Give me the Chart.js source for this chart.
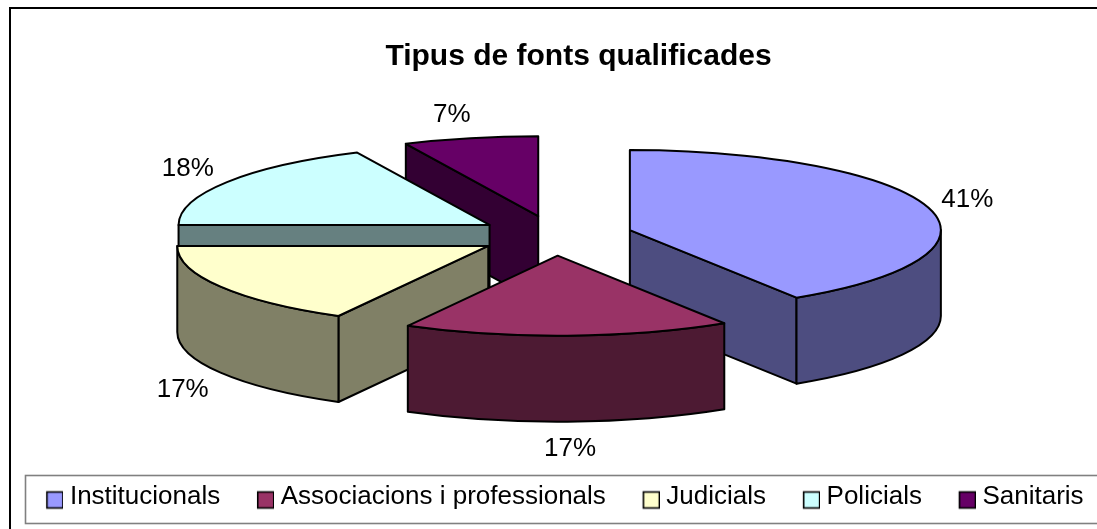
<!DOCTYPE html>
<html><head><meta charset="utf-8">
<style>html,body{margin:0;padding:0;background:#fff}canvas{display:block}</style>
<script src="https://cdn.jsdelivr.net/npm/chart.js@4/dist/chart.umd.min.js"></script>
</head><body><canvas id="c" width="1097" height="529"></canvas>
<script>
const categories = ['Institucionals','Associacions i professionals','Judicials','Policials','Sanitaris'];
const shares = [41,17,17,18,7];
const topColors = ['#9999FF','#993366','#FFFFCC','#CCFFFF','#660066'];
const wallColors = ['#4D4D80','#4D1A33','#808066','#668080','#330033'];
const paintOrder = [4,3,0,2,1];
const labelNudge = [[-0.6,0],[1.4,-3],[-2.6,2],[-4.6,2.5],[-9.6,6]];

const FONT = '"Liberation Sans", Arial, sans-serif';
const CX = 555.2, CY = 235.7, SQUASH = 80/311, DEPTH = 86;
const TOP_R = 311, EXPLODE = 77.75;
const LABEL_SIZE = 26;

function swatch(color){
  const c = document.createElement('canvas'); c.width = 40; c.height = 30;
  const x = c.getContext('2d');
  x.fillStyle = color; x.fillRect(23.75,10.5,16,16);
  x.strokeStyle = '#000'; x.lineWidth = 1.6; x.strokeRect(23.75,10.5,16,16);
  return c;
}
const pie3d = {
  id:'pie3d',
  afterLayout(chart){
    const l = chart.legend, t = chart.titleBlock;
    const dx = 30;
    t.left += dx; t.right += dx;
    l.left += 8; l.right += 8;
    const h = l.bottom - l.top; l.top = 483.5 - 20; l.bottom = l.top + h;
  },
  beforeDraw(chart){
    const ctx = chart.ctx;
    ctx.save();
    ctx.strokeStyle = '#000'; ctx.lineWidth = 2;
    ctx.beginPath(); ctx.moveTo(10,540); ctx.lineTo(10,8); ctx.lineTo(1110,8); ctx.stroke();
    ctx.strokeStyle = '#808080'; ctx.lineWidth = 1.6;
    ctx.strokeRect(25.5,475.5,1090,48);
    ctx.restore();
  },
  beforeDatasetDraw(){ return false; },
  afterDatasetsDraw(chart){
    const ctx = chart.ctx, arcs = chart.getDatasetMeta(0).data;
    const geo = arcs.map(el=>{
      const s = el.startAngle, e = el.endAngle, m = (s+e)/2;
      const r = el.outerRadius;
      return {s,e,m,rx:r,ry:r*SQUASH,ax:CX+EXPLODE*Math.cos(m),ay:CY+EXPLODE*SQUASH*Math.sin(m)};
    });
    ctx.save();
    ctx.lineWidth = 2; ctx.strokeStyle = '#000'; ctx.lineJoin = 'round';
    paintOrder.forEach(i=>{
      const g = geo[i];
      const px = t=>g.ax+g.rx*Math.cos(t), py = t=>g.ay+g.ry*Math.sin(t);
      ctx.fillStyle = wallColors[i];
      const face = t=>{
        ctx.beginPath(); ctx.moveTo(g.ax,g.ay); ctx.lineTo(px(t),py(t));
        ctx.lineTo(px(t),py(t)+DEPTH); ctx.lineTo(g.ax,g.ay+DEPTH); ctx.closePath();
        ctx.fill(); ctx.stroke();
      };
      if (Math.cos(g.s) < -1e-6) face(g.s);
      if (Math.cos(g.e) > 1e-6) face(g.e);
      const t0 = Math.max(g.s,0), t1 = Math.min(g.e,Math.PI);
      if (t1 > t0) {
        ctx.beginPath();
        ctx.ellipse(g.ax,g.ay,g.rx,g.ry,0,t0,t1);
        ctx.ellipse(g.ax,g.ay+DEPTH,g.rx,g.ry,0,t1,t0,true);
        ctx.closePath(); ctx.fill(); ctx.stroke();
      }
      const el = arcs[i];
      ctx.save();
      ctx.translate(g.ax,g.ay); ctx.scale(1,SQUASH); ctx.translate(-el.x,-el.y);
      el.draw(ctx);
      ctx.restore();
      ctx.beginPath(); ctx.moveTo(g.ax,g.ay);
      ctx.ellipse(g.ax,g.ay,g.rx,g.ry,0,g.s,g.e);
      ctx.closePath(); ctx.stroke();
    });
    ctx.fillStyle = '#000'; ctx.font = LABEL_SIZE+'px '+FONT;
    ctx.textAlign = 'center'; ctx.textBaseline = 'middle';
    geo.forEach((g,i)=>{
      const c = Math.cos(g.m), s = Math.sin(g.m);
      const x = g.ax + (g.rx+41)*c + labelNudge[i][0];
      const y = g.ay + g.ry*s + 30*s + (s>0 && c*c<0.9 ? DEPTH : 0) + labelNudge[i][1];
      ctx.fillText(shares[i]+'%', x, y);
    });
    ctx.restore();
  }
};
new Chart(document.getElementById('c'),{
  type:'pie',
  data:{labels:categories,datasets:[{data:shares,backgroundColor:topColors,borderWidth:0,radius:TOP_R,clip:false}]},
  options:{
    responsive:false,animation:false,
    layout:{padding:0},
    plugins:{
      title:{display:true,text:'Tipus de fonts qualificades',color:'#000',
        font:{family:FONT,size:30,weight:'bold'},padding:{top:38.5,bottom:0}},
      legend:{position:'bottom',align:'center',
        labels:{color:'#000',font:{family:FONT,size:LABEL_SIZE},padding:20,usePointStyle:true,pointStyleWidth:27.5,
          generateLabels:(chart)=>categories.map((t,i)=>({text:t,fillStyle:topColors[i],strokeStyle:'#000',pointStyle:swatch(topColors[i]),index:i}))}},
      tooltip:{enabled:false}
    }
  },
  plugins:[pie3d]
});
</script></body></html>
